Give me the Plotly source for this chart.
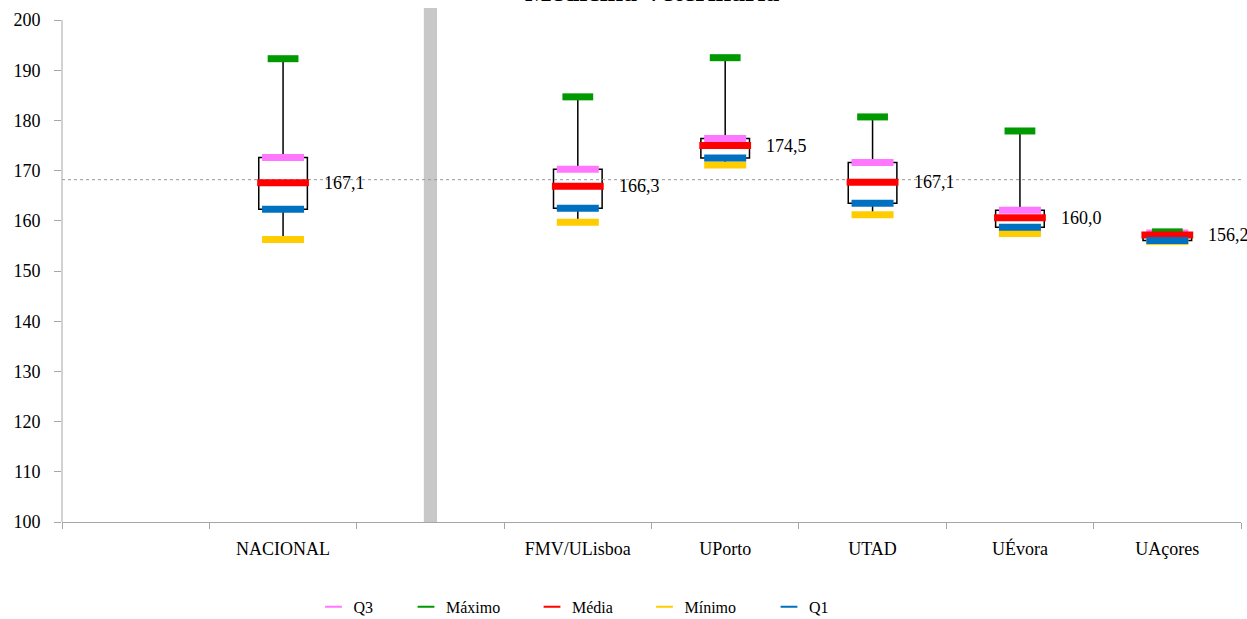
import plotly.graph_objects as go

# ---- data ----
categories = ["", "NACIONAL", "", "FMV/ULisboa", "UPorto", "UTAD", "UÉvora", "UAçores"]
group_pos = [1, 3, 4, 5, 6, 7]
q3 = [172.6, 170.3, 176.4, 171.6, 162.1, 157.6]
maximo = [192.3, 184.7, 192.5, 180.7, 177.9, 157.8]
media = [167.6, 166.9, 175.0, 167.7, 160.6, 157.2]
minimo = [156.3, 159.7, 171.1, 161.2, 157.5, 155.9]
q1 = [162.3, 162.5, 172.5, 163.5, 158.7, 156.1]
labels = ["167,1", "166,3", "174,5", "167,1", "160,0", "156,2"]
reference_line = 168.2
separator_pos = 2
y_min, y_max = 100, 202.4
y_ticks = list(range(100, 201, 10))
title_text = "Medicina Veterinária"

FONT = "Liberation Serif"
AXIS_GRAY = "#A6A6A6"

fig = go.Figure()

# separator bar
fig.add_trace(go.Bar(x=[separator_pos], y=[y_max - y_min], base=y_min, width=0.09,
                     marker=dict(color="#C8C8C8", line=dict(width=0)),
                     showlegend=False, hoverinfo="skip"))

# dotted reference line
fig.add_trace(go.Scatter(x=[-0.5, len(categories) - 0.5], y=[reference_line, reference_line],
                         mode="lines", line=dict(color="#9A9A9A", width=1, dash="dot"),
                         showlegend=False, hoverinfo="skip"))

# boxes with whiskers
fig.add_trace(go.Box(x=group_pos, q1=q1, median=media, q3=q3,
                     lowerfence=minimo, upperfence=maximo,
                     width=0.33, whiskerwidth=0, fillcolor="white",
                     line=dict(color="black", width=1.5),
                     boxpoints=False, showlegend=False, hoverinfo="skip"))

series = [
    ("Q3", q3, "#FF77FF", 30),
    ("Máximo", maximo, "#009900", 22),
    ("Média", media, "#FF0000", 37),
    ("Mínimo", minimo, "#FFCC00", 30),
    ("Q1", q1, "#0070C0", 30),
]
# legend swatch centres (px) for each entry
legend_px = [338.5, 431, 557, 669.5, 794]
plot_left, plot_w = 62, 1179
legend_layout = {}
for i, (name, vals, color, size) in enumerate(series):
    lname = "legend" if i == 0 else f"legend{i + 1}"
    fig.add_trace(go.Scatter(x=group_pos, y=vals, mode="markers", name=name,
                             legend=lname,
                             marker=dict(symbol="line-ew", size=size, color=color,
                                         line=dict(width=7, color=color)),
                             cliponaxis=False))
    legend_layout[lname] = dict(orientation="h", x=(legend_px[i] - 25 - plot_left) / plot_w,
                                xanchor="left", y=-0.165, yanchor="middle",
                                bgcolor="rgba(0,0,0,0)",
                                font=dict(family=FONT, size=16, color="black"),
                                itemsizing="constant")

for x, y, t in zip(group_pos, media, labels):
    fig.add_annotation(x=x, y=y, text=t, showarrow=False, xanchor="left",
                       xshift=39, font=dict(family=FONT, size=18, color="black"))

fig.add_annotation(x=0.5, xref="paper", y=0.999, yref="paper", yanchor="bottom",
                   text=f"<b>{title_text}</b>", showarrow=False,
                   font=dict(family=FONT, size=28, color="black"))

fig.update_layout(
    width=1247, height=619,
    margin=dict(l=62, r=6, t=8, b=97, autoexpand=False),
    paper_bgcolor="white", plot_bgcolor="white",
    font=dict(family=FONT, size=18, color="black"),
    showlegend=True,
    shapes=[dict(type="line", xref="paper", yref="y", x0=0, x1=0, y0=y_ticks[0], y1=y_ticks[-1],
                 line=dict(color=AXIS_GRAY, width=1))],
    **legend_layout,
)

fig.update_xaxes(range=[-0.5, len(categories) - 0.5], tickmode="array",
                 tickvals=list(range(len(categories))), ticktext=categories,
                 ticks="", showgrid=False, zeroline=False, automargin=False,
                 showline=True, linecolor=AXIS_GRAY, linewidth=1,
                 ticklabelstandoff=10,
                 tickfont=dict(family=FONT, size=18),
                 minor=dict(tickmode="array", tickvals=[i - 0.5 for i in range(len(categories) + 1)],
                            ticks="outside", ticklen=6, tickcolor=AXIS_GRAY, showgrid=False))
fig.update_yaxes(range=[y_min, y_max], tickmode="array", tickvals=y_ticks,
                 ticks="outside", ticklen=7, tickcolor=AXIS_GRAY, automargin=False,
                 showgrid=False, zeroline=False, showline=False,
                 tickfont=dict(family=FONT, size=18),
                 ticklabelstandoff=10)

fig.write_html("out.html", config={"displayModeBar": False},
               post_script="document.body.style.margin='0';document.body.style.overflow='hidden';")
